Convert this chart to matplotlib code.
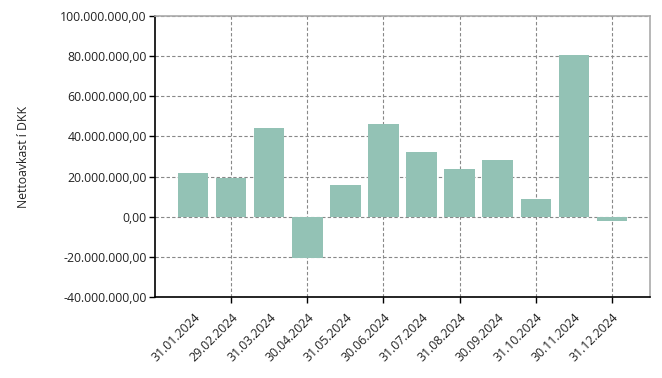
import matplotlib
matplotlib.use("Agg")
import matplotlib.pyplot as plt
import numpy as np

dates = ["31.01.2024", "29.02.2024", "31.03.2024", "30.04.2024", "31.05.2024", "30.06.2024",
         "31.07.2024", "31.08.2024", "30.09.2024", "31.10.2024", "30.11.2024", "31.12.2024"]
values = [21.6e6, 19.4e6, 44.0e6, -20.4e6, 16.0e6, 46.0e6,
          32.4e6, 23.8e6, 28.1e6, 8.6e6, 80.6e6, -2.0e6]
yticks = [-40e6, -20e6, 0, 20e6, 40e6, 60e6, 80e6, 100e6]

plt.rcParams['font.family'] = ['Open Sans', 'DejaVu Sans']

fig = plt.figure(figsize=(6.62, 3.78), dpi=100)
ax = fig.add_axes([155/662, 1-297/378, (650-155)/662, (297-16)/378])

x = np.arange(len(values))
ax.bar(x, values, width=0.8, color="#93c2b5", zorder=3)

ax.set_xlim(-1, 12)
ax.set_ylim(-40e6, 100e6)

def fmt(v):
    s = f"{abs(v):,.2f}".replace(",", "X").replace(".", ",").replace("X", ".")
    return ("-" if v < 0 else "") + s

ax.set_yticks(yticks)
ax.set_yticklabels([fmt(v) for v in yticks], fontsize=8.8, color="#222222")
ax.tick_params(axis='y', length=4, width=1, color="black", pad=2)

ax.xaxis.remove_overlapping_locs = False
ax.set_xticks(x)
ax.set_xticklabels(dates, rotation=45, ha='right', rotation_mode='anchor', fontsize=8.8, color="#222222")
ax.tick_params(axis='x', which='major', length=0, pad=10)
ax.set_xticks(x[1::2], minor=True)
ax.tick_params(axis='x', which='minor', length=4, width=1, color="black")

ax.grid(axis='y', which='major', linestyle=(0, (3, 2)), color="#888888", linewidth=0.8, zorder=0)
ax.grid(axis='x', which='minor', linestyle=(0, (3, 2)), color="#888888", linewidth=0.8, zorder=0)
ax.grid(axis='x', which='major', visible=False)

for s in ['left', 'bottom']:
    ax.spines[s].set_color("black")
    ax.spines[s].set_linewidth(1.2)
for s in ['top', 'right']:
    ax.spines[s].set_color("#aaaaaa")
    ax.spines[s].set_linewidth(1.2)

ax.set_ylabel("Nettoavkast í DKK", fontsize=8.8, color="#222222", labelpad=22)

fig.savefig("out.png", dpi=100)
